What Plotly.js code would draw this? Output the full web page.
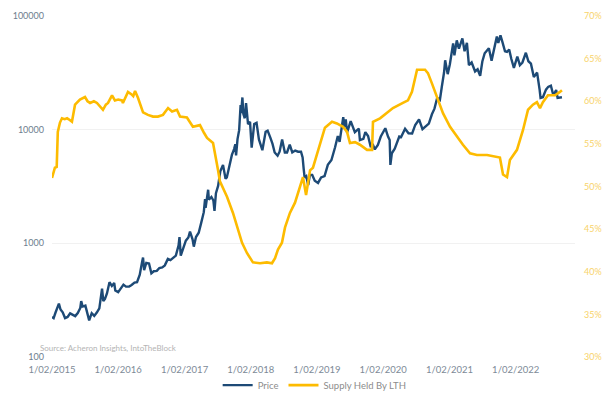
<!DOCTYPE html>
<html>
<head>
<meta charset="utf-8">
<script src="https://cdn.plot.ly/plotly-3.0.1.min.js"></script>
<style>html,body{margin:0;padding:0;background:#fff;}#chart{width:611px;height:395px;}</style>
</head>
<body>
<div id="chart"></div>
<script>
const priceDates = ["2015-02-01","2015-02-10","2015-02-20","2015-03-04","2015-03-11","2015-03-20","2015-04-01","2015-04-14","2015-04-28","2015-05-12","2015-05-26","2015-06-09","2015-06-23","2015-07-07","2015-07-12","2015-07-20","2015-08-04","2015-08-18","2015-08-25","2015-09-08","2015-09-22","2015-10-06","2015-10-20","2015-11-04","2015-11-11","2015-11-20","2015-12-01","2015-12-15","2015-12-28","2016-01-10","2016-01-16","2016-02-01","2016-02-15","2016-03-01","2016-03-15","2016-04-01","2016-04-15","2016-05-01","2016-05-15","2016-05-30","2016-06-12","2016-06-17","2016-06-23","2016-07-05","2016-07-20","2016-08-02","2016-08-15","2016-09-01","2016-09-15","2016-10-01","2016-10-15","2016-11-01","2016-11-15","2016-12-01","2016-12-15","2016-12-30","2017-01-04","2017-01-11","2017-01-25","2017-02-08","2017-02-22","2017-03-03","2017-03-17","2017-03-24","2017-04-05","2017-04-20","2017-05-04","2017-05-18","2017-05-25","2017-05-28","2017-06-11","2017-06-15","2017-06-29","2017-07-10","2017-07-16","2017-07-24","2017-08-05","2017-08-17","2017-09-01","2017-09-15","2017-09-22","2017-10-01","2017-10-12","2017-10-20","2017-11-01","2017-11-08","2017-11-12","2017-11-20","2017-11-29","2017-12-07","2017-12-10","2017-12-17","2017-12-22","2017-12-30","2018-01-06","2018-01-17","2018-01-28","2018-02-06","2018-02-20","2018-03-05","2018-03-18","2018-03-30","2018-04-06","2018-04-24","2018-05-05","2018-05-20","2018-06-01","2018-06-13","2018-06-29","2018-07-10","2018-07-24","2018-08-08","2018-08-20","2018-09-04","2018-09-18","2018-10-04","2018-10-20","2018-11-05","2018-11-14","2018-11-20","2018-11-25","2018-12-04","2018-12-15","2018-12-24","2019-01-06","2019-01-20","2019-02-07","2019-02-24","2019-03-15","2019-04-02","2019-04-22","2019-05-12","2019-05-27","2019-06-06","2019-06-26","2019-07-02","2019-07-10","2019-07-17","2019-08-06","2019-08-29","2019-09-20","2019-09-26","2019-10-15","2019-10-26","2019-11-10","2019-11-25","2019-12-05","2019-12-17","2020-01-03","2020-01-19","2020-02-13","2020-02-28","2020-03-08","2020-03-12","2020-03-20","2020-04-05","2020-04-30","2020-05-10","2020-06-01","2020-06-20","2020-07-10","2020-07-27","2020-08-17","2020-09-05","2020-09-25","2020-10-10","2020-10-27","2020-11-10","2020-11-25","2020-12-10","2020-12-20","2021-01-02","2021-01-08","2021-01-22","2021-02-03","2021-02-21","2021-02-28","2021-03-13","2021-03-25","2021-04-13","2021-04-25","2021-05-08","2021-05-19","2021-06-03","2021-06-22","2021-07-06","2021-07-20","2021-08-01","2021-08-14","2021-09-06","2021-09-21","2021-10-04","2021-10-20","2021-10-28","2021-11-09","2021-11-20","2021-12-04","2021-12-15","2021-12-27","2022-01-08","2022-01-22","2022-02-10","2022-02-24","2022-03-10","2022-03-29","2022-04-12","2022-04-26","2022-05-12","2022-05-30","2022-06-13","2022-06-18","2022-07-01","2022-07-18","2022-07-30","2022-08-14","2022-08-28","2022-09-12","2022-09-20","2022-10-14"];
const priceValues = [225,220,245,275,295,262,247,220,225,242,237,229,244,270,310,278,283,225,210,243,230,246,268,400,310,325,362,455,422,448,385,372,405,433,416,417,430,452,456,530,690,750,580,672,665,545,568,572,607,615,640,730,712,755,780,960,1135,780,895,1055,1125,1270,1085,935,1135,1240,1520,1880,2450,2050,2960,2420,2560,2380,1930,2760,3200,4300,4900,3700,3800,4400,5400,6000,6750,7450,5950,8250,9900,16500,14000,19200,13800,12600,17100,11200,11700,6950,11200,11500,8200,6900,6600,9600,9800,8500,7500,6300,5900,6400,8200,6300,6300,7400,6300,6550,6400,6400,5700,4500,3800,3900,3250,4000,4000,3550,3400,3800,3900,4900,5400,7000,8800,7800,12900,10600,12300,9400,11900,9500,10200,8100,8300,9500,8800,7000,7500,6700,7350,8700,10300,8700,8100,4900,6200,6800,8700,8600,10200,9300,9250,11000,12300,10100,10700,11300,13650,15300,19000,18300,23500,32000,40800,30800,37600,57500,45000,61000,51700,63500,49000,58000,37000,39000,32500,34000,29800,39800,47000,52000,40500,49000,65900,58000,67600,58900,49000,48300,50800,41800,35000,44000,37000,39000,47500,40000,38100,29000,31800,22400,19000,19300,22500,23800,24400,20000,22300,19000,19300];

const lthDates = ["2015-02-01","2015-02-08","2015-02-17","2015-02-27","2015-03-05","2015-03-17","2015-03-28","2015-04-12","2015-04-25","2015-05-10","2015-05-22","2015-06-08","2015-07-05","2015-08-02","2015-08-16","2015-08-30","2015-09-20","2015-10-07","2015-10-25","2015-11-09","2015-11-25","2015-12-07","2015-12-29","2016-01-14","2016-02-01","2016-02-22","2016-02-27","2016-03-26","2016-04-15","2016-04-24","2016-05-04","2016-05-20","2016-06-17","2016-07-14","2016-08-11","2016-09-07","2016-10-05","2016-11-02","2016-11-24","2016-12-21","2017-01-07","2017-02-14","2017-03-19","2017-04-27","2017-05-19","2017-06-05","2017-07-08","2017-07-24","2017-08-04","2017-08-15","2017-09-23","2017-10-26","2017-11-23","2017-12-15","2018-01-11","2018-02-13","2018-03-24","2018-05-01","2018-05-29","2018-06-15","2018-07-01","2018-07-23","2018-08-09","2018-09-05","2018-10-03","2018-10-30","2018-11-16","2018-12-03","2018-12-25","2019-01-10","2019-02-07","2019-03-01","2019-03-17","2019-04-25","2019-05-22","2019-06-25","2019-07-17","2019-08-02","2019-08-30","2019-09-26","2019-11-04","2019-12-02","2019-12-07","2020-01-15","2020-02-22","2020-03-26","2020-05-20","2020-06-17","2020-07-09","2020-08-06","2020-09-19","2020-10-05","2020-10-27","2020-11-24","2020-12-27","2021-02-04","2021-03-14","2021-04-16","2021-05-25","2021-07-02","2021-08-27","2021-10-21","2021-11-06","2021-11-23","2021-12-15","2021-12-31","2022-02-08","2022-03-13","2022-04-10","2022-05-07","2022-05-29","2022-06-15","2022-07-01","2022-07-29","2022-09-06","2022-10-03","2022-10-14"];
const lthValues = [51.0,51.5,52.2,52.3,56.4,57.5,58.0,57.9,58.0,57.8,57.6,59.6,60.2,60.5,60.0,59.8,60.0,59.8,59.3,59.0,59.6,59.8,60.7,60.1,60.2,60.1,59.8,61.1,60.8,60.6,61.2,60.4,58.7,58.4,58.2,58.2,58.4,59.2,58.8,59.0,58.2,58.1,57.0,57.2,56.3,55.7,55.1,53.5,52.0,50.6,48.8,46.9,44.9,43.4,42.2,41.1,41.0,41.1,41.0,41.6,42.6,43.4,45.2,46.9,48.1,49.9,51.1,49.0,51.9,52.2,54.3,55.8,56.9,57.6,57.4,57.0,56.4,55.1,55.2,54.9,54.3,54.3,57.6,58.0,58.7,59.2,59.8,60.1,61.1,63.7,63.7,63.3,62.1,60.5,58.6,57.0,55.8,54.9,53.9,53.7,53.7,53.5,53.4,51.4,51.1,53.1,54.3,56.6,59.0,59.6,59.9,59.2,59.9,60.7,60.7,61.1,61.3];

const xTickVals = ["2015-02-01","2016-02-01","2017-02-01","2018-02-01","2019-02-01","2020-02-01","2021-02-01","2022-02-01"];
const xTickText = ["1/02/2015","1/02/2016","1/02/2017","1/02/2018","1/02/2019","1/02/2020","1/02/2021","1/02/2022"];
const yTickVals = [100,1000,10000,100000];
const yTickText = ["100","1000","10000","100000"];
const y2TickVals = [30,35,40,45,50,55,60,65,70];
const y2TickText = ["30%","35%","40%","45%","50%","55%","60%","65%","70%"];

const FONT = "Lato, 'Open Sans', sans-serif";

const traces = [
  {x: priceDates, y: priceValues, name: "Price", type: "scatter", mode: "lines",
   line: {color: "#1d4a76", width: 2.4}, yaxis: "y"},
  {x: lthDates, y: lthValues, name: "Supply Held By LTH", type: "scatter", mode: "lines",
   line: {color: "#fdbb00", width: 2.6}, yaxis: "y2"}
];

const layout = {
  width: 611, height: 395,
  margin: {l: 52, r: 36, t: 16, b: 38},
  paper_bgcolor: "#ffffff", plot_bgcolor: "#ffffff",
  font: {family: FONT, size: 9, color: "#7d8a97"},
  showlegend: true,
  legend: {orientation: "h", xref: "container", yref: "container", x: 0.515, xanchor: "center",
           y: 0.025, yanchor: "middle", bgcolor: "rgba(0,0,0,0)",
           font: {family: FONT, size: 9.5, color: "#8c8c8c"}, itemwidth: 30, tracegroupgap: 0},
  xaxis: {type: "date", range: ["2015-02-01", "2022-12-25"], tickvals: xTickVals, ticktext: xTickText,
          showgrid: false, zeroline: false, showline: false, ticks: "", ticklabelstandoff: 5,
          tickfont: {family: FONT, size: 9.5, color: "#7d8a97"}},
  yaxis: {type: "log", range: [2, 5], tickvals: yTickVals, ticktext: yTickText,
          showgrid: true, gridcolor: "#f1f1f1", gridwidth: 1, zeroline: false, showline: false,
          ticks: "", ticklabelstandoff: 7, tickfont: {family: FONT, size: 9, color: "#6d7d8e"}},
  yaxis2: {overlaying: "y", side: "right", range: [30, 70], tickvals: y2TickVals, ticktext: y2TickText,
           showgrid: false, zeroline: false, showline: false, ticks: "", ticklabelstandoff: 8,
           tickfont: {family: FONT, size: 9, color: "#f8d36a"}},
  shapes: [
    {type: "line", xref: "paper", x0: 0, x1: 1, yref: "y", y0: Math.log10(yTickVals[1]), y1: Math.log10(yTickVals[1]),
     line: {color: "#c3d0dc", width: 1.2}, layer: "below"}
  ],
  annotations: [
    {text: "Source: Acheron Insights, IntoTheBlock", xref: "paper", yref: "paper", x: -0.027, y: 0.027,
     xanchor: "left", yanchor: "middle", showarrow: false, font: {family: FONT, size: 8, color: "#b4b4b4"}}
  ]
};

Plotly.newPlot("chart", traces, layout, {displayModeBar: false, staticPlot: true});
</script>
</body>
</html>
